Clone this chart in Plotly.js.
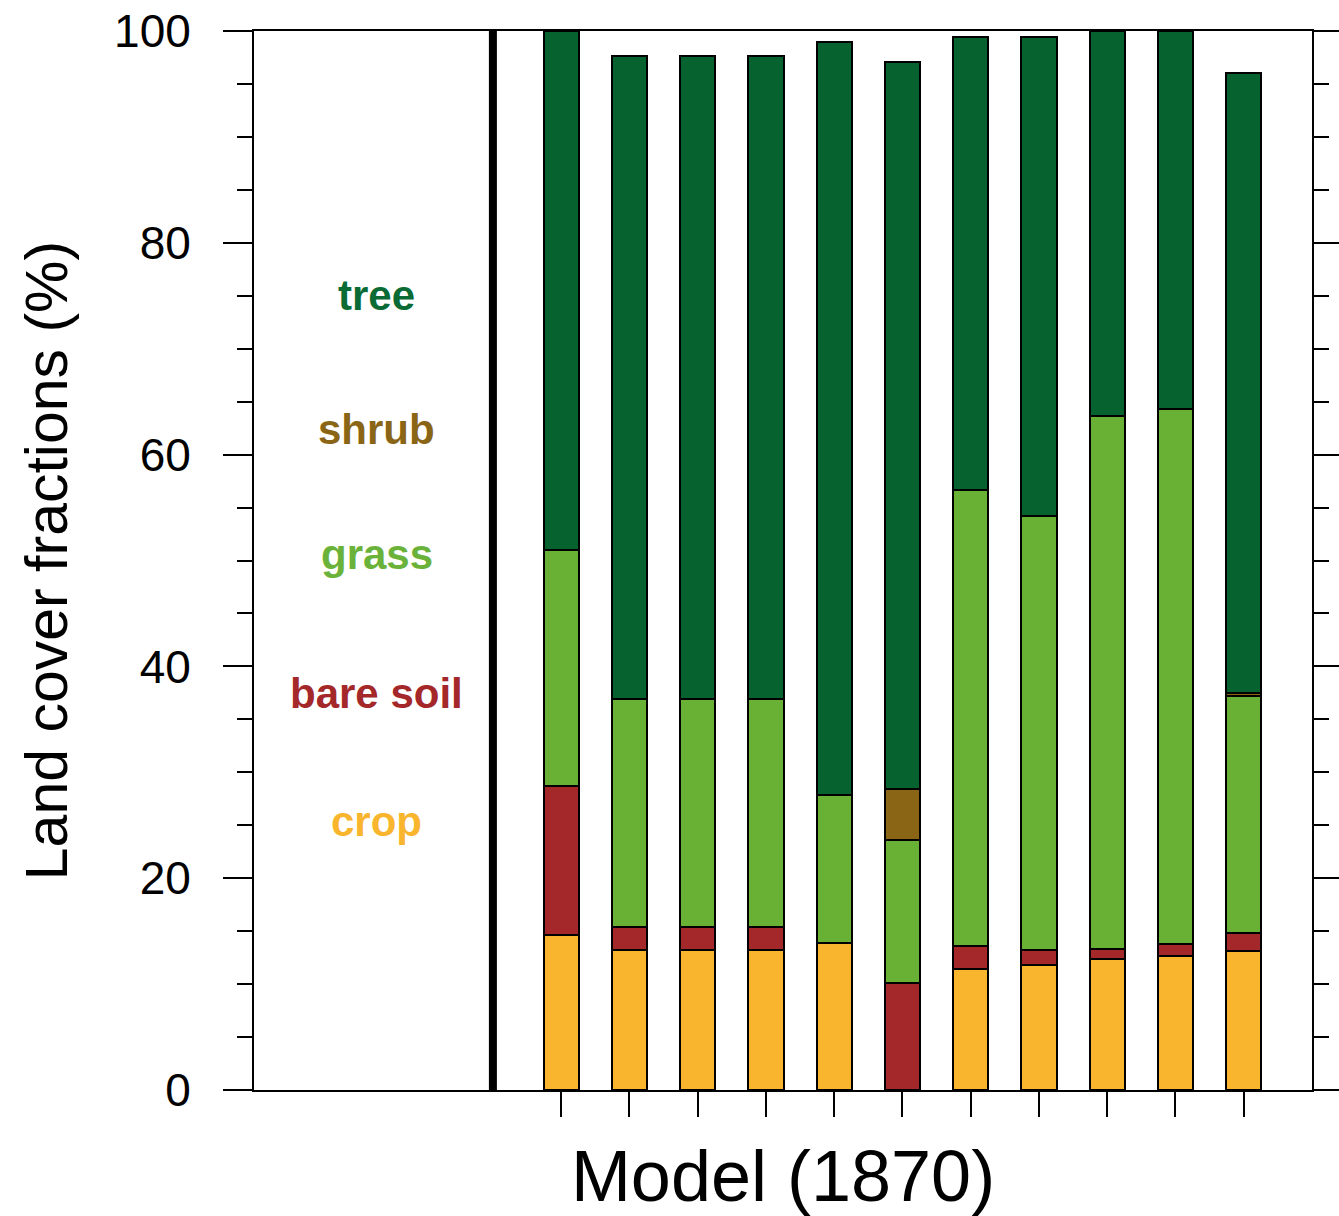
<!DOCTYPE html>
<html>
<head>
<meta charset="utf-8">
<script src="https://cdn.plot.ly/plotly-3.0.1.min.js"></script>
<style>html,body{margin:0;padding:0;background:#fff;}#chart{width:1339px;height:1216px;}</style>
</head>
<body>
<div id="chart"></div>
<script>
// Data
const models = [1, 2, 3, 4, 5, 6, 7, 8, 9, 10, 11];
const crop     = [14.6, 13.2, 13.2, 13.2, 13.9, 0.0, 11.4, 11.8, 12.4, 12.7, 13.1];
const bareSoil = [14.1, 2.2, 2.2, 2.2, 0.0, 10.1, 2.2, 1.4, 0.9, 1.1, 1.7];
const grass    = [22.3, 21.5, 21.5, 21.5, 14.0, 13.5, 43.1, 41.0, 50.3, 50.5, 22.4];
const shrub    = [0.0, 0.0, 0.0, 0.0, 0.0, 4.8, 0.0, 0.0, 0.0, 0.0, 0.3];
const tree     = [49.0, 60.7, 60.7, 60.7, 71.1, 68.7, 42.7, 45.2, 36.4, 35.7, 58.5];
const classNames = ["tree", "shrub", "grass", "bare soil", "crop"];
const classY = [75, 62.4, 50.6, 37.4, 25.4];
const yTicks = [0, 20, 40, 60, 80, 100];

const colors = {
  "crop": "#F9B52D",
  "bare soil": "#A4282A",
  "grass": "#68B135",
  "shrub": "#8A6516",
  "tree": "#06622E"
};
const labelColors = {
  "tree": "#0A6B35",
  "shrub": "#8A6516",
  "grass": "#6AB23A",
  "bare soil": "#A4282A",
  "crop": "#F9B52D"
};

const series = [["crop", crop], ["bare soil", bareSoil], ["grass", grass], ["shrub", shrub], ["tree", tree]];
const traces = series.map(([name, vals]) => ({
  type: "bar",
  name: name,
  x: models,
  y: vals,
  width: 0.515,
  marker: {color: colors[name], line: {color: "#000", width: 2}},
  hoverinfo: "name+y"
}));

const annotations = classNames.map((n, i) => ({
  x: -1.70, y: classY[i], xref: "x", yref: "y",
  text: "<b>" + n + "</b>", showarrow: false,
  font: {family: "Liberation Sans, Arial, sans-serif", size: 42, color: labelColors[n]},
  xanchor: "center", yanchor: "middle"
}));

const layout = {
  width: 1339, height: 1216,
  margin: {l: 254, r: 27, t: 31, b: 126},
  paper_bgcolor: "#fff", plot_bgcolor: "#fff",
  barmode: "stack",
  showlegend: false,
  font: {family: "Liberation Sans, Arial, sans-serif", color: "#000"},
  xaxis: {
    range: [-3.5, 12],
    tickvals: models, ticktext: models.map(() => ""),
    ticks: "outside", ticklen: 25, tickwidth: 2, tickcolor: "#000",
    showline: true, linecolor: "#000", linewidth: 2, mirror: true,
    showgrid: false, zeroline: false,
    title: {text: "Model (1870)", font: {size: 72, color: "#000"}, standoff: 32}
  },
  yaxis: {
    range: [0, 100],
    tickvals: yTicks,
    ticks: "outside", ticklen: 29, tickwidth: 2, tickcolor: "#000",
    minor: {dtick: 5, ticks: "outside", ticklen: 15, tickwidth: 2, tickcolor: "#000"},
    showline: true, linecolor: "#000", linewidth: 2, mirror: "ticks",
    showgrid: false, zeroline: false,
    tickfont: {size: 46, color: "#000"},
    ticklabelstandoff: 23,
    title: {text: "Land cover fractions (%)", font: {size: 59, color: "#000"}, standoff: 27}
  },
  shapes: [{
    type: "line", xref: "x", yref: "y", x0: 0, x1: 0, y0: 0, y1: 100,
    line: {color: "#000", width: 8}
  }],
  annotations: annotations
};

Plotly.newPlot("chart", traces, layout, {displayModeBar: false, staticPlot: true});
</script>
</body>
</html>
